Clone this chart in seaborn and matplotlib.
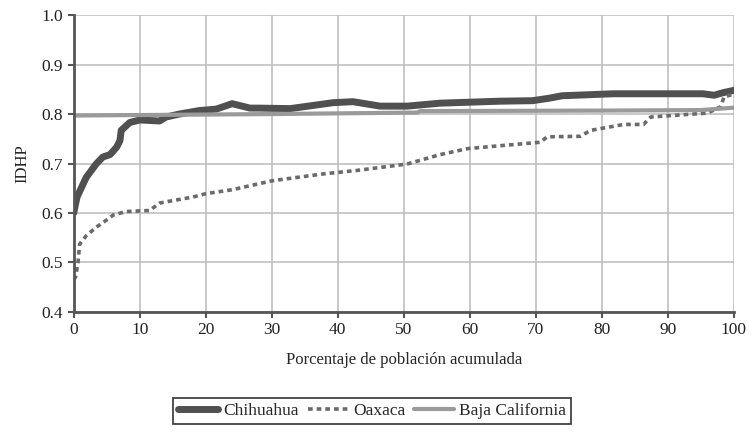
import pandas as pd
import matplotlib.pyplot as plt
import seaborn as sns

chih_x = [0, 0.5, 1.9, 3.4, 4.4, 5.5, 6.5, 7.0, 7.2, 8.5, 10, 13, 14, 16, 19, 21.6, 24, 26.7,
          28, 32.8, 39.3, 42.3, 46.4, 50.5, 55.5, 64.6, 69.5, 72, 74, 81.7, 95.3, 97, 98.3, 100]
chih_y = [0.600, 0.632, 0.672, 0.699, 0.713, 0.718, 0.733, 0.746, 0.767, 0.783, 0.788, 0.786,
          0.794, 0.800, 0.807, 0.810, 0.821, 0.812, 0.812, 0.811, 0.823, 0.825, 0.816, 0.816,
          0.822, 0.826, 0.827, 0.832, 0.837, 0.841, 0.841, 0.838, 0.843, 0.848]

oax_x = [0, 0.3, 0.65, 0.9, 1.9, 3.4, 4.9, 6, 8, 11.5, 13, 15, 18, 20, 24, 28, 30, 37.8,
         42.9, 50.5, 55.5, 59.6, 64.6, 70.7, 71.7, 76.7, 78.3, 83.3, 86.3, 87.4, 96, 98, 98.5, 100]
oax_y = [0.465, 0.471, 0.500, 0.537, 0.554, 0.571, 0.585, 0.596, 0.603, 0.605, 0.620, 0.625,
         0.632, 0.639, 0.647, 0.659, 0.665, 0.679, 0.686, 0.699, 0.718, 0.730, 0.736, 0.743,
         0.754, 0.755, 0.767, 0.779, 0.779, 0.794, 0.802, 0.815, 0.835, 0.840]

baja_x = [0, 30, 52, 52.5, 80, 95, 100]
baja_y = [0.797, 0.800, 0.803, 0.806, 0.807, 0.808, 0.813]

df = pd.concat([
    pd.DataFrame({'x': chih_x, 'y': chih_y, 'estado': 'Chihuahua'}),
    pd.DataFrame({'x': oax_x, 'y': oax_y, 'estado': 'Oaxaca'}),
    pd.DataFrame({'x': baja_x, 'y': baja_y, 'estado': 'Baja California'}),
])

sns.set_style('whitegrid')
plt.rcParams['font.family'] = ['Liberation Serif', 'DejaVu Serif']

fig, ax = plt.subplots(figsize=(7.52, 4.32), dpi=100)
fig.subplots_adjust(left=0.098, right=0.976, top=0.965, bottom=0.278)

styles = {'Chihuahua': ('#505050', 5, '-'),
          'Oaxaca': ('#6a6a6a', 2.6, (0, (1.3, 1.1))),
          'Baja California': ('#9a9a9a', 3, '-')}
for name in ['Chihuahua', 'Oaxaca', 'Baja California']:
    col, lw, ls = styles[name]
    sns.lineplot(data=df[df['estado'] == name], x='x', y='y', ax=ax, color=col,
                 linewidth=lw, linestyle=ls, label=name, estimator=None, sort=False)

ax.set_xlim(0, 100)
ax.set_ylim(0.4, 1.0)
ax.set_xticks(range(0, 101, 10))
ax.set_yticks([0.4, 0.5, 0.6, 0.7, 0.8, 0.9, 1.0])
ax.set_yticklabels(['0.4', '0.5', '0.6', '0.7', '0.8', '0.9', '1.0'])
ax.grid(True, color='#c0c0c0', linewidth=1.2)
for s in ['top', 'right']:
    ax.spines[s].set_visible(False)
for s in ['left', 'bottom']:
    ax.spines[s].set_color('#555555')
    ax.spines[s].set_linewidth(2)
ax.tick_params(axis='both', direction='out', length=4, width=1.5, color='#555555',
               labelsize=12.5, labelcolor='#222222', bottom=True, left=True)
ax.set_xlabel('Porcentaje de población acumulada', fontsize=12, labelpad=10)
ax.set_ylabel('IDHP', fontsize=12, labelpad=8)

ax.legend(loc='center', bbox_to_anchor=(0.495, 0.049), bbox_transform=fig.transFigure,
          ncol=3, frameon=True, fancybox=False, edgecolor='black', fontsize=12.5,
          handlelength=2.3, handletextpad=0.3, columnspacing=0.5, borderpad=0.3)
ax.get_legend().get_frame().set_linewidth(1.2)

plt.savefig('out.png', dpi=100)
